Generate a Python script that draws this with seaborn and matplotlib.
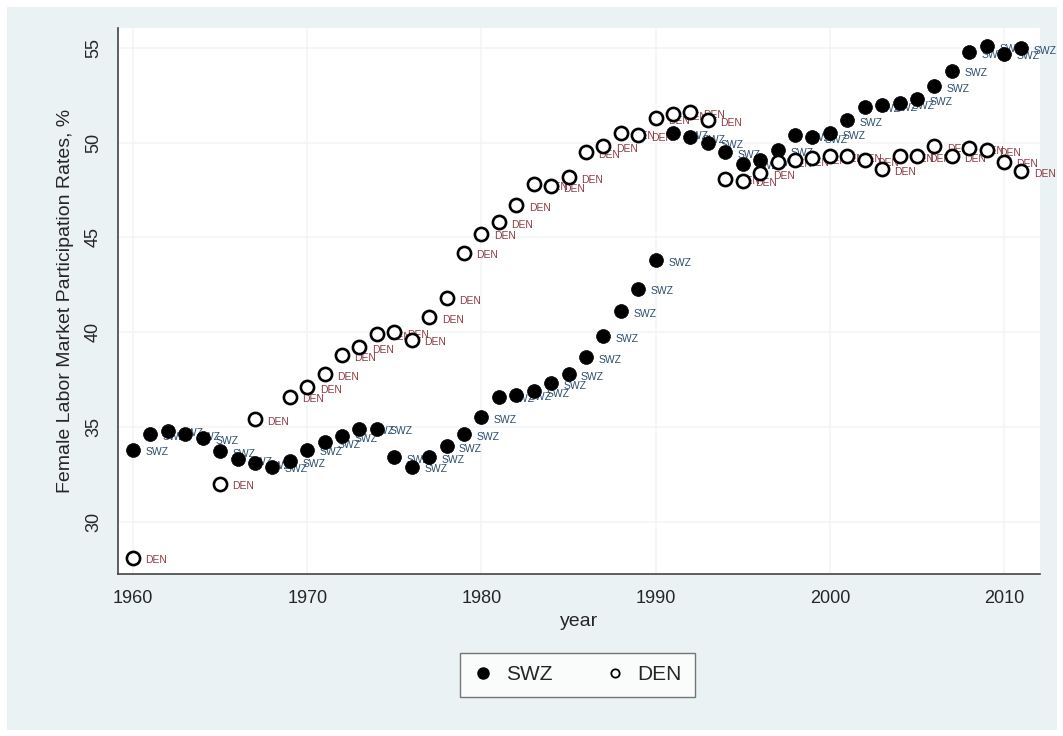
import pandas as pd
import seaborn as sns
import matplotlib.pyplot as plt
from matplotlib.lines import Line2D

# Dados (taxa de participação feminina, %)
anos_swz = list(range(1960, 2012))
taxa_swz = [
    33.8, 34.6, 34.8, 34.6, 34.4, 33.7, 33.3, 33.1, 32.9, 33.2,
    33.8, 34.2, 34.5, 34.9, 34.9, 33.4, 32.9, 33.4, 34.0, 34.6,
    35.5, 36.6, 36.7, 36.9, 37.3, 37.8, 38.7, 39.8, 41.1, 42.3,
    43.8, 50.5, 50.3, 50.0, 49.5, 48.9, 49.1, 49.6, 50.4, 50.3,
    50.5, 51.2, 51.9, 52.0, 52.1, 52.3, 53.0, 53.8, 54.8, 55.1,
    54.7, 55.0,
]

anos_den = [1960, 1965, 1967] + list(range(1969, 2012))
taxa_den = [
    28.1, 32.0, 35.4,
    36.6, 37.1, 37.8, 38.8, 39.2, 39.9, 40.0, 39.6, 40.8, 41.8, 44.2,
    45.2, 45.8, 46.7, 47.8, 47.7, 48.2, 49.5, 49.8, 50.5, 50.4,
    51.3, 51.5, 51.6, 51.2, 48.1, 48.0, 48.4, 49.0, 49.1, 49.2,
    49.3, 49.3, 49.1, 48.6, 49.3, 49.3, 49.8, 49.3, 49.7, 49.6,
    49.0, 48.5,
]

swz = pd.DataFrame({"year": anos_swz, "taxa": taxa_swz})
den = pd.DataFrame({"year": anos_den, "taxa": taxa_den})

sns.set_style("white")
plt.rcParams["font.family"] = ["Liberation Sans", "DejaVu Sans"]

fig = plt.figure(figsize=(10.63, 7.36), dpi=100)
fig.patch.set_facecolor("#eaf2f3")
fig.patch.set_edgecolor("white")
fig.patch.set_linewidth(8)
ax = fig.add_axes([0.111, 0.2201, 0.867, 0.742])
ax.set_facecolor("white")

# grade bem clara
for v in [30, 35, 40, 45, 50, 55]:
    ax.axhline(v, color="#f2f5f6", linewidth=1.2, zorder=0)
for v in [1960, 1970, 1980, 1990, 2000, 2010]:
    ax.axvline(v, color="#f2f5f6", linewidth=1.2, zorder=0)

sns.scatterplot(data=swz, x="year", y="taxa", color="black", s=100,
                edgecolor="black", linewidth=0.5, ax=ax, zorder=3)
sns.scatterplot(data=den, x="year", y="taxa", facecolor="white", s=90,
                edgecolor="black", linewidth=1.9, ax=ax, zorder=3)

# rótulos de cada ponto
for _, r in swz.iterrows():
    ax.annotate("SWZ", (r["year"], r["taxa"]), xytext=(9, -2),
                textcoords="offset points", fontsize=7.5, color="#2e4d6e",
                va="center", ha="left", zorder=2)
for _, r in den.iterrows():
    ax.annotate("DEN", (r["year"], r["taxa"]), xytext=(9, -2),
                textcoords="offset points", fontsize=7.5, color="#8e3a44",
                va="center", ha="left", zorder=2)

ax.set_xlim(1959.14, 2012.04)
ax.set_ylim(27.23, 56.06)
ax.set_xticks([1960, 1970, 1980, 1990, 2000, 2010])
ax.set_yticks([30, 35, 40, 45, 50, 55])
ax.tick_params(axis="both", direction="out", length=8, width=1,
               color="#444444", labelsize=13)
plt.setp(ax.get_yticklabels(), rotation=90, va="center")

for s in ["top", "right"]:
    ax.spines[s].set_visible(False)
for s in ["left", "bottom"]:
    ax.spines[s].set_color("#444444")
    ax.spines[s].set_linewidth(1.2)

ax.set_xlabel("year", fontsize=14, labelpad=4)
ax.set_ylabel("Female Labor Market Participation Rates, %", fontsize=14, labelpad=8)

handles = [
    Line2D([], [], marker="o", linestyle="", color="black", markersize=8),
    Line2D([], [], marker="o", linestyle="", markerfacecolor="white",
           markeredgecolor="black", markeredgewidth=1.3, markersize=6),
]
leg = fig.legend(handles, ["SWZ", "DEN"], loc="center", ncol=2,
                 bbox_to_anchor=(0.543, 0.083), fontsize=15, frameon=True,
                 fancybox=False, handletextpad=0.6, columnspacing=2.5,
                 borderpad=0.6, handlelength=1.0)
leg.get_frame().set_edgecolor("#555555")
leg.get_frame().set_facecolor("white")

plt.savefig("out.png", dpi=100, facecolor=fig.get_facecolor(), edgecolor="white")
